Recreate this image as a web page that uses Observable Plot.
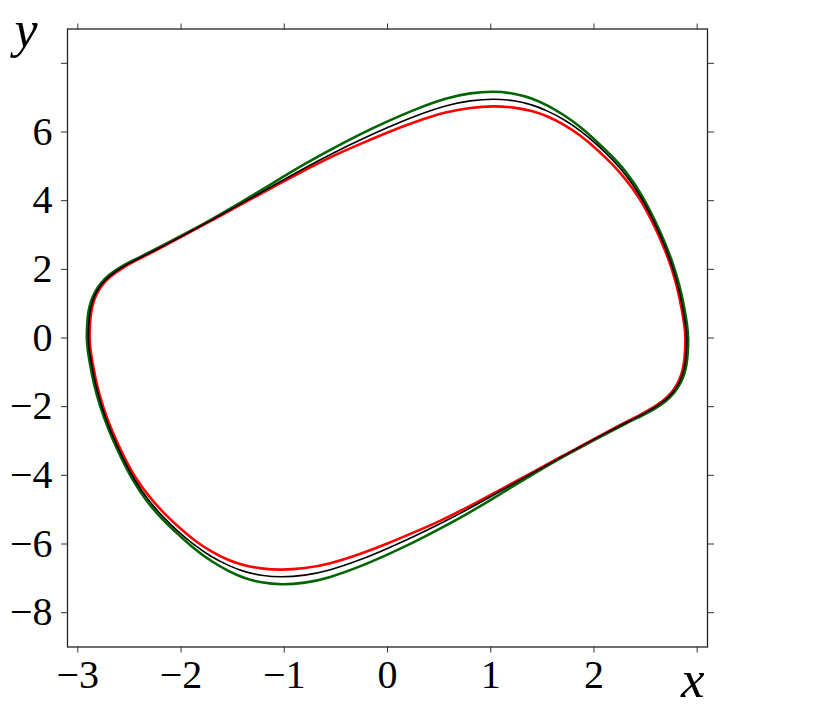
<!DOCTYPE html>
<html>
<head>
<meta charset="utf-8">
<script src="https://cdn.jsdelivr.net/npm/d3@7"></script>
<script src="https://cdn.jsdelivr.net/npm/@observablehq/plot@0.6"></script>
<style>
  html, body { margin: 0; padding: 0; background: #fff; }
  #chart { width: 832px; height: 713px; }
</style>
</head>
<body>
<div id="chart"></div>
<script>
// ---- data ----
const xTickValues = [-3, -2, -1, 0, 1, 2, 3];
const xTickLabels = ["\u22123", "\u22122", "\u22121", "0", "1", "2", ""];
const yTickValues = [-8, -6, -4, -2, 0, 2, 4, 6, 8];
const yTickLabels = ["\u22128", "\u22126", "\u22124", "\u22122", "0", "2", "4", "6", ""];
const xLabel = "x";
const yLabel = "y";

// black limit cycle
const blackX = [
  -2.900, -2.895, -2.885, -2.862, -2.825, -2.770, -2.690, -2.580, -2.450, -2.300, -2.000, -1.700, -1.400, -1.100, -0.800, -0.500, -0.250, 0.000,
  0.257, 0.580, 0.800, 1.030, 1.225, 1.400, 1.548, 1.710, 1.871, 2.030, 2.180, 2.320, 2.450, 2.565, 2.686, 2.770, 2.830, 2.865, 2.890,
  2.900, 2.895, 2.885, 2.862, 2.825, 2.770, 2.690, 2.580, 2.450, 2.300, 2.000, 1.700, 1.400, 1.100, 0.800, 0.500, 0.250, 0.000,
  -0.257, -0.580, -0.800, -1.030, -1.225, -1.400, -1.548, -1.710, -1.871, -2.030, -2.180, -2.320, -2.450, -2.565, -2.686, -2.770, -2.830, -2.865, -2.890];
const blackY = [
  0.00, 0.40, 0.75, 1.05, 1.32, 1.58, 1.82, 2.05, 2.26, 2.48, 2.95, 3.44, 3.94, 4.45, 4.96, 5.43, 5.79, 6.13,
  6.46, 6.79, 6.92, 6.97, 6.92, 6.80, 6.62, 6.37, 6.04, 5.64, 5.20, 4.72, 4.15, 3.50, 2.70, 2.00, 1.35, 0.80, 0.35,
  0.00, -0.40, -0.75, -1.05, -1.32, -1.58, -1.82, -2.05, -2.26, -2.48, -2.95, -3.44, -3.94, -4.45, -4.96, -5.43, -5.79, -6.13,
  -6.46, -6.79, -6.92, -6.97, -6.92, -6.80, -6.62, -6.37, -6.04, -5.64, -5.20, -4.72, -4.15, -3.50, -2.70, -2.00, -1.35, -0.80, -0.35];

// green limit cycle (outer)
const greenX = [
  -2.915, -2.910, -2.900, -2.877, -2.840, -2.785, -2.705, -2.593, -2.460, -2.308, -2.000, -1.700, -1.400, -1.100, -0.800, -0.500, -0.250, 0.000,
  0.257, 0.580, 0.800, 1.030, 1.225, 1.400, 1.548, 1.710, 1.871, 2.040, 2.195, 2.335, 2.465, 2.580, 2.701, 2.785, 2.845, 2.880, 2.905,
  2.915, 2.910, 2.900, 2.877, 2.840, 2.785, 2.705, 2.593, 2.460, 2.308, 2.000, 1.700, 1.400, 1.100, 0.800, 0.500, 0.250, 0.000,
  -0.257, -0.580, -0.800, -1.030, -1.225, -1.400, -1.548, -1.710, -1.871, -2.040, -2.195, -2.335, -2.465, -2.580, -2.701, -2.785, -2.845, -2.880, -2.905];
const greenY = [
  0.00, 0.40, 0.75, 1.05, 1.32, 1.58, 1.83, 2.06, 2.27, 2.49, 2.97, 3.46, 3.98, 4.53, 5.08, 5.57, 5.96, 6.31,
  6.65, 7.00, 7.14, 7.19, 7.13, 6.99, 6.78, 6.50, 6.15, 5.69, 5.24, 4.76, 4.17, 3.50, 2.70, 2.00, 1.35, 0.80, 0.35,
  0.00, -0.40, -0.75, -1.05, -1.32, -1.58, -1.83, -2.06, -2.27, -2.49, -2.97, -3.46, -3.98, -4.53, -5.08, -5.57, -5.96, -6.31,
  -6.65, -7.00, -7.14, -7.19, -7.13, -6.99, -6.78, -6.50, -6.15, -5.69, -5.24, -4.76, -4.17, -3.50, -2.70, -2.00, -1.35, -0.80, -0.35];

// red limit cycle (inner)
const redX = [
  -2.888, -2.883, -2.873, -2.850, -2.813, -2.758, -2.678, -2.570, -2.442, -2.294, -2.000, -1.700, -1.400, -1.100, -0.800, -0.500, -0.250, 0.000,
  0.257, 0.580, 0.800, 1.030, 1.225, 1.400, 1.548, 1.710, 1.871, 2.020, 2.168, 2.308, 2.438, 2.553, 2.674, 2.758, 2.818, 2.853, 2.878,
  2.888, 2.883, 2.873, 2.850, 2.813, 2.758, 2.678, 2.570, 2.442, 2.294, 2.000, 1.700, 1.400, 1.100, 0.800, 0.500, 0.250, 0.000,
  -0.257, -0.580, -0.800, -1.030, -1.225, -1.400, -1.548, -1.710, -1.871, -2.020, -2.168, -2.308, -2.438, -2.553, -2.674, -2.758, -2.818, -2.853, -2.878];
const redY = [
  0.00, 0.40, 0.75, 1.05, 1.32, 1.58, 1.82, 2.04, 2.25, 2.47, 2.94, 3.43, 3.92, 4.41, 4.89, 5.35, 5.67, 5.99,
  6.29, 6.60, 6.71, 6.76, 6.72, 6.62, 6.47, 6.22, 5.90, 5.52, 5.10, 4.63, 4.10, 3.47, 2.69, 2.00, 1.35, 0.80, 0.35,
  0.00, -0.40, -0.75, -1.05, -1.32, -1.58, -1.82, -2.04, -2.25, -2.47, -2.94, -3.43, -3.92, -4.41, -4.89, -5.35, -5.67, -5.99,
  -6.29, -6.60, -6.71, -6.76, -6.72, -6.62, -6.47, -6.22, -5.90, -5.52, -5.10, -4.63, -4.10, -3.47, -2.69, -2.00, -1.35, -0.80, -0.35];

// ---- build tables ----
const toRows = (xs, ys) => xs.map((x, i) => ({x, y: ys[i]}));
const black = toRows(blackX, blackY);
const green = toRows(greenX, greenY);
const red = toRows(redX, redY);

const serif = "'Liberation Serif', 'DejaVu Serif', serif";
const tickColor = "#333";

const chart = Plot.plot({
  width: 832,
  height: 713,
  marginLeft: 67,
  marginRight: 125,
  marginTop: 28.5,
  marginBottom: 66.5,
  x: {domain: [-3.1, 3.1]},
  y: {domain: [-9, 9]},
  style: {fontFamily: serif, fontSize: "40px", background: "white", color: "black"},
  marks: [
    Plot.line(green, {x: "x", y: "y", stroke: "#006400", strokeWidth: 2.6, curve: "basis-closed"}),
    Plot.line(red, {x: "x", y: "y", stroke: "#ff0000", strokeWidth: 2.6, curve: "basis-closed"}),
    Plot.line(black, {x: "x", y: "y", stroke: "#000000", strokeWidth: 1.6, curve: "basis-closed"}),
    Plot.frame({stroke: "#222", strokeWidth: 1.3}),
    Plot.axisX({anchor: "bottom", ticks: xTickValues, tickSize: 6, tickPadding: 7, stroke: tickColor,
      tickFormat: (d) => xTickLabels[xTickValues.indexOf(d)], fontSize: 40, label: null}),
    Plot.axisX({anchor: "top", ticks: xTickValues, tickSize: 6, stroke: tickColor, tickFormat: () => "", label: null}),
    Plot.axisY({anchor: "left", ticks: yTickValues, tickSize: 6, tickPadding: 9, stroke: tickColor,
      tickFormat: (d) => yTickLabels[yTickValues.indexOf(d)], fontSize: 40, label: null}),
    Plot.axisY({anchor: "right", ticks: yTickValues, tickSize: 6, stroke: tickColor, tickFormat: () => "", label: null}),
    Plot.text([xLabel], {frameAnchor: "bottom-right", text: (d) => d, textAnchor: "end", lineAnchor: "middle",
      dx: -3, dy: 33, fontSize: 53, fontStyle: "italic", fontFamily: serif}),
    Plot.text([yLabel], {frameAnchor: "top-left", text: (d) => d, textAnchor: "start", lineAnchor: "middle",
      dx: -53, dy: 1, fontSize: 52, fontStyle: "italic", fontFamily: serif})
  ]
});
document.getElementById("chart").appendChild(chart);
</script>
</body>
</html>
